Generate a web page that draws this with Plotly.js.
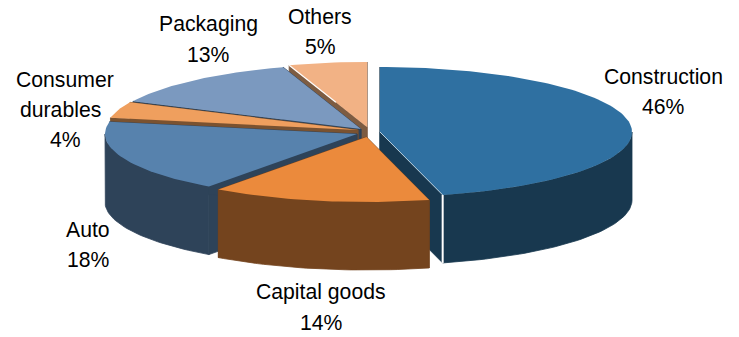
<!DOCTYPE html>
<html>
<head>
<meta charset="utf-8">
<script src="https://cdn.plot.ly/plotly-3.0.1.min.js"></script>
<style>html,body{margin:0;padding:0;background:#fff}#chart{width:739px;height:337px}</style>
</head>
<body>
<div id="chart"></div>
<script>
// Sector shares, in percent, clockwise from twelve o'clock
const categories = ['Construction', 'Capital goods', 'Auto', 'Consumer durables', 'Packaging', 'Others'];
const shares = [46, 14, 18, 4, 13, 5];

// Tilted-disc projection of the pie, in plot units
const RX = 252, RY = 65, DEPTH = 68;
const hubs = [[380, 132], [366.5, 137], [357, 134], [358, 130], [361, 129], [367, 127]];
const topColors = ['#2f70a1', '#eb8a3c', '#5782ad', '#ef9f5e', '#7b99bf', '#f2b285'];
const wallColors = ['#18384f', '#74441e', '#2e4359', '#7a5230', '#2e4359', '#7d5c42'];
const paintOrder = [5, 4, 3, 2, 0, 1];

// Label placement, one entry per text line
const labelLines = [
  [[663, 76, 'Construction'], [663, 106, '46%']],
  [[321, 292, 'Capital goods'], [321, 322, '14%']],
  [[88, 229, 'Auto'], [88, 259, '18%']],
  [[64.5, 79, 'Consumer'], [60, 109, 'durables'], [65, 139, '4%']],
  [[208, 24, 'Packaging'], [208, 54, '13%']],
  [[320, 16, 'Others'], [320, 46, '5%']]
];

const rad = d => d * Math.PI / 180;
const rimPoint = (hub, deg) => [hub[0] + RX * Math.sin(rad(deg)), hub[1] - RY * Math.cos(rad(deg))];

function arc(hub, from, to) {
  const pts = [];
  const steps = Math.max(2, Math.ceil(Math.abs(to - from) / 1.5));
  for (let i = 0; i <= steps; i++) pts.push(rimPoint(hub, from + (to - from) * i / steps));
  return pts;
}

// Thin same-colour outline closes hairline gaps between adjoining polygons
function shape(points, color, outline) {
  const closed = points.concat([points[0]]);
  return {
    x: closed.map(p => p[0]), y: closed.map(p => p[1]),
    type: 'scatter', mode: 'lines', fill: 'toself', fillcolor: color,
    line: { width: outline || 0, color: color }, hoverinfo: 'skip', showlegend: false
  };
}

function stroke(a, b, color, width) {
  return {
    x: [a[0], b[0]], y: [a[1], b[1]], type: 'scatter', mode: 'lines',
    line: { width: width, color: color }, hoverinfo: 'skip', showlegend: false
  };
}

// Sector start and end angles from the shares
const total = shares.reduce((s, v) => s + v, 0);
const starts = [], ends = [];
shares.reduce((acc, v, i) => {
  starts[i] = acc / total * 360;
  ends[i] = (acc + v) / total * 360;
  return acc + v;
}, 0);

const down = p => [p[0], p[1] + DEPTH];
const traces = [];

paintOrder.forEach(i => {
  const hub = hubs[i], a0 = starts[i], a1 = ends[i];
  const wall = wallColors[i];

  // Radial cut faces
  [a0, a1].forEach(a => {
    const r = rimPoint(hub, a);
    traces.push(shape([hub, r, down(r), down(hub)], wall, 0.8));
  });

  // Outer wall: only the part of the rim that faces the viewer
  const w0 = Math.max(a0, 90), w1 = Math.min(a1, 270);
  if (w1 > w0) {
    const rim = arc(hub, w0, w1);
    traces.push(shape(rim.concat(rim.slice().reverse().map(down)), wall, 0.8));
  }

  // Top surface
  traces.push(shape([hub].concat(arc(hub, a0, a1)), topColors[i]));
});

// Bright seam on the large sector's corner and edges catching the light
const seamRim = rimPoint(hubs[0], ends[0]);
traces.push(stroke(seamRim, down(seamRim), '#ffffff', 2));
traces.push(stroke(hubs[0], seamRim, '#b9d0df', 1));
const othersRim = rimPoint(hubs[5], starts[5]);
traces.push(stroke(othersRim, [othersRim[0] + (hubs[5][0] - othersRim[0]) * 0.6, othersRim[1] + (hubs[5][1] - othersRim[1]) * 0.6], '#ffffff', 1.2));

const annotations = [];
labelLines.forEach(lines => lines.forEach(l => annotations.push({
  x: l[0], y: l[1], text: l[2], xref: 'x', yref: 'y', showarrow: false,
  xanchor: 'center', yanchor: 'middle',
  font: { family: 'Liberation Sans, Arial, sans-serif', size: 21.2, color: '#000000' }
})));

const hiddenAxis = { visible: false, fixedrange: true, showgrid: false, zeroline: false };
Plotly.newPlot('chart', traces, {
  width: 739, height: 337,
  margin: { l: 0, r: 0, t: 0, b: 0 },
  paper_bgcolor: '#ffffff', plot_bgcolor: '#ffffff',
  showlegend: false,
  xaxis: Object.assign({ range: [0, 739] }, hiddenAxis),
  yaxis: Object.assign({ range: [337, 0] }, hiddenAxis),
  annotations: annotations
}, { displayModeBar: false, staticPlot: true });
</script>
</body>
</html>
